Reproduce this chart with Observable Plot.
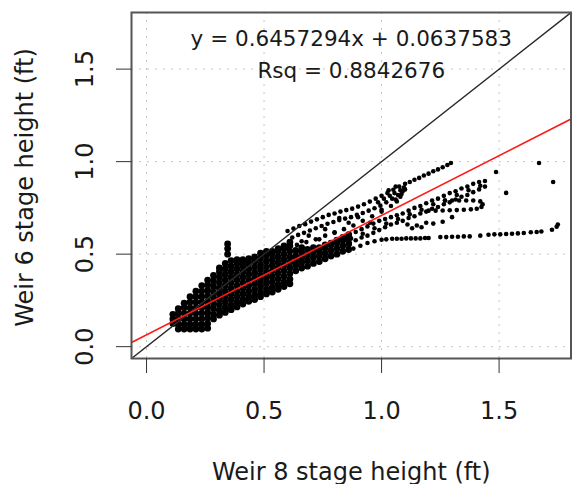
<!DOCTYPE html>
<html>
<head>
<meta charset="utf-8">
<script src="https://cdn.jsdelivr.net/npm/d3@7"></script>
<script src="https://cdn.jsdelivr.net/npm/@observablehq/plot@0.6"></script>
<style>
  html, body { margin: 0; padding: 0; background: white; }
</style>
</head>
<body>
<div id="chart"></div>
<script>
// ---- axis & text content ----
const xTicks = [0, 0.5, 1.0, 1.5];
const xTickLabels = ["0.0", "0.5", "1.0", "1.5"];
const yTicks = [0, 0.5, 1.0, 1.5];
const yTickLabels = ["0.0", "0.5", "1.0", "1.5"];
const xTitle = ["Weir 8 stage height (ft)"];
const yTitle = ["Weir 6 stage height (ft)"];
const slope = 0.6457294;
const intercept = 0.0637583;
const rsq = 0.8842676;
const eqLine1 = ["y = 0.6457294x + 0.0637583"];
const eqLine2 = ["Rsq = 0.8842676"];
const axisDomain = [-0.064, 1.806];

// ---- dense low-stage cloud: [x, [y values]] columns ----
const blobCols = [
  [0.112, [0.125, 0.15, 0.175]],
  [0.135, [0.095, 0.12, 0.15, 0.18, 0.205]],
  [0.16, [0.095, 0.12, 0.15, 0.18, 0.21, 0.235]],
  [0.185, [0.095, 0.12, 0.15, 0.18, 0.21, 0.24, 0.27]],
  [0.21, [0.095, 0.12, 0.15, 0.18, 0.21, 0.24, 0.27, 0.30]],
  [0.235, [0.095, 0.12, 0.15, 0.18, 0.21, 0.24, 0.27, 0.30, 0.33]],
  [0.26, [0.10, 0.125, 0.155, 0.185, 0.215, 0.245, 0.275, 0.305, 0.335, 0.36]],
  [0.285, [0.15, 0.175, 0.205, 0.235, 0.265, 0.295, 0.325, 0.355, 0.385]],
  [0.31, [0.17, 0.195, 0.225, 0.255, 0.285, 0.315, 0.345, 0.375, 0.405, 0.425]],
  [0.335, [0.185, 0.21, 0.24, 0.27, 0.30, 0.33, 0.36, 0.39, 0.42, 0.45]],
  [0.36, [0.20, 0.225, 0.255, 0.285, 0.315, 0.345, 0.375, 0.405, 0.435, 0.465]],
  [0.385, [0.215, 0.24, 0.27, 0.30, 0.33, 0.36, 0.39, 0.42, 0.45, 0.47]],
  [0.41, [0.23, 0.255, 0.285, 0.315, 0.345, 0.375, 0.405, 0.435, 0.46, 0.47]],
  [0.435, [0.245, 0.27, 0.30, 0.33, 0.36, 0.39, 0.42, 0.45, 0.475]],
  [0.46, [0.255, 0.28, 0.31, 0.34, 0.37, 0.40, 0.43, 0.46, 0.485]],
  [0.485, [0.27, 0.295, 0.325, 0.355, 0.385, 0.415, 0.445, 0.475, 0.505]],
  [0.51, [0.285, 0.31, 0.34, 0.37, 0.40, 0.43, 0.46, 0.49, 0.515]],
  [0.535, [0.295, 0.32, 0.35, 0.38, 0.41, 0.44, 0.47, 0.50, 0.515]],
  [0.56, [0.31, 0.335, 0.365, 0.395, 0.425, 0.455, 0.485, 0.515, 0.53]],
  [0.585, [0.325, 0.35, 0.38, 0.41, 0.44, 0.47, 0.50, 0.53, 0.545]],
  [0.61, [0.34, 0.365, 0.395, 0.425, 0.455, 0.485, 0.515, 0.545, 0.565]],
  [0.345, [0.50, 0.53, 0.555]],
  [0.635, [0.41, 0.44, 0.465, 0.49, 0.52]],
  [0.66, [0.425, 0.455, 0.48, 0.51, 0.535]],
  [0.685, [0.435, 0.465, 0.495, 0.525]],
  [0.71, [0.45, 0.48, 0.51, 0.535]],
  [0.735, [0.46, 0.49, 0.52, 0.535]],
  [0.76, [0.475, 0.505, 0.535, 0.55]],
  [0.785, [0.49, 0.52, 0.55, 0.56]],
  [0.81, [0.50, 0.53, 0.56, 0.575]],
  [0.835, [0.515, 0.545, 0.575, 0.59]],
  [0.86, [0.525, 0.555, 0.585, 0.605]]
];

// ---- sparse trails [x, y] ----
const upperBand = [
  [0.60,0.625],[0.625,0.638],[0.65,0.652],[0.675,0.662],[0.70,0.676],[0.725,0.688],[0.75,0.70],
  [0.775,0.712],[0.80,0.72],[0.825,0.73],[0.85,0.738],[0.875,0.746],[0.90,0.757],[0.925,0.77],
  [0.95,0.784],[0.975,0.80],[1.00,0.815],[1.025,0.83],[1.05,0.848],[1.075,0.865],[1.10,0.88],
  [0.62,0.59],[0.645,0.604],[0.67,0.615],[0.695,0.628],[0.72,0.64],[0.745,0.652],[0.77,0.664],
  [0.795,0.674],[0.82,0.684],[0.845,0.692],[0.87,0.70],[0.895,0.712],[0.92,0.722],[0.945,0.735],
  [0.97,0.748],[0.995,0.762],[1.02,0.78],[1.045,0.80],[1.07,0.82],[1.09,0.84],
  [0.60,0.535],[0.64,0.55],[0.68,0.565],[0.72,0.58],[0.76,0.60],[0.80,0.618],[0.84,0.635],
  [0.88,0.655],[0.92,0.68],[0.96,0.705],[1.00,0.73],[1.04,0.76],[1.065,0.785],
  [1.03,0.845],[1.055,0.83],[1.08,0.845],[1.08,0.81],[1.095,0.86],[1.06,0.865],
  [1.01,0.80],[1.035,0.815],[1.06,0.795],[1.085,0.825],[1.10,0.85],[0.985,0.78]
];
const topTrail = [
  [1.12,0.89],[1.14,0.902],[1.16,0.912],[1.18,0.925],[1.20,0.935],[1.22,0.948],
  [1.24,0.958],[1.26,0.97],[1.28,0.982],[1.295,0.993]
];
const midScatter = [
  [0.66,0.57],[0.69,0.60],[0.735,0.58],[0.76,0.635],[0.80,0.615],[0.82,0.695],
  [0.86,0.67],[0.90,0.70],[0.95,0.67],[1.00,0.74]
];
const lowerBand = [
  [0.865,0.605],[0.89,0.62],[0.915,0.635],[0.94,0.65],[0.965,0.665],[0.99,0.68],[1.015,0.69],
  [1.04,0.70],[1.065,0.71],[1.09,0.72],[1.115,0.735],[1.14,0.75],[1.165,0.76],[1.19,0.775],
  [1.215,0.79],[1.24,0.80],[1.265,0.815],[1.29,0.83],[1.315,0.84],[1.34,0.855],[1.365,0.865],
  [1.39,0.88],[1.415,0.89],[1.44,0.895],
  [0.865,0.56],[0.89,0.575],[0.915,0.59],[0.94,0.60],[0.965,0.615],[0.99,0.63],[1.015,0.645],
  [1.04,0.66],[1.065,0.67],[1.09,0.68],[1.115,0.695],[1.14,0.705],[1.165,0.72],[1.19,0.73],
  [1.215,0.745],[1.24,0.755],[1.265,0.77],[1.29,0.78],[1.315,0.795],[1.34,0.81],[1.365,0.82],
  [1.39,0.835],[1.415,0.85],[1.44,0.865],
  [0.87,0.585],[0.92,0.61],[0.97,0.64],[1.02,0.665],[1.07,0.69],[1.12,0.715],[1.17,0.74],
  [1.22,0.77],[1.27,0.79],[1.32,0.82],[1.37,0.845],[1.42,0.87]
];
const hookTrail = [
  [1.20,0.735],[1.23,0.735],[1.26,0.736],[1.29,0.737],[1.32,0.738],[1.35,0.74],[1.38,0.742],
  [1.405,0.745],[1.425,0.755],[1.43,0.77],[1.42,0.785],[1.39,0.79],[1.36,0.79],[1.33,0.79],
  [1.30,0.79],[1.27,0.79]
];
const lowScatter = [
  [1.11,0.66],[1.13,0.64],[1.15,0.655],[1.17,0.645],[1.19,0.67],[1.22,0.665],[1.26,0.675],[1.30,0.70]
];
const flatTrail = [
  [0.88,0.53],[0.91,0.545],[0.94,0.56],[0.97,0.57],
  [1.00,0.578],[1.02,0.58],[1.045,0.583],[1.065,0.583],[1.085,0.583],[1.105,0.585],[1.125,0.585],
  [1.145,0.585],[1.165,0.585],[1.185,0.587],[1.20,0.587],
  [1.25,0.592],[1.275,0.592],[1.30,0.594],[1.325,0.594],[1.35,0.596],[1.375,0.596],
  [1.42,0.60],
  [1.455,0.605],[1.48,0.607],[1.505,0.607],[1.53,0.609],[1.555,0.61],[1.58,0.612],[1.605,0.614],
  [1.635,0.618],[1.66,0.62],[1.68,0.622],
  [1.725,0.632],[1.745,0.648],[1.75,0.66]
];
const outliers = [[1.487,0.944],[1.53,0.831],[1.67,0.993],[1.73,0.89]];

// ---- tables built from the arrays ----
const dense = blobCols.flatMap(([x, ys]) => ys.map(y => ({x, y})));
const sparse = [...upperBand, ...topTrail, ...midScatter, ...lowerBand, ...hookTrail,
  ...lowScatter, ...flatTrail, ...outliers].map(([x, y]) => ({x, y}));
const fitLine = axisDomain.map(x => ({x, y: slope * x + intercept}));
const oneToOne = axisDomain.map(x => ({x, y: x}));

const textColor = "#1a1a1a";

const chart = Plot.plot({
  width: 572,
  height: 484,
  marginLeft: 131,
  marginRight: 1.5,
  marginTop: 12,
  marginBottom: 126,
  x: {domain: axisDomain},
  y: {domain: axisDomain},
  style: {fontFamily: "DejaVu Sans", background: "white", color: textColor},
  marks: [
    Plot.gridX(xTicks, {stroke: "#c4c4c4", strokeOpacity: 1, strokeDasharray: "2,6"}),
    Plot.gridY(yTicks, {stroke: "#c4c4c4", strokeOpacity: 1, strokeDasharray: "2,6"}),
    Plot.dot(dense, {x: "x", y: "y", r: 3.4, fill: "black", stroke: "none"}),
    Plot.dot(sparse, {x: "x", y: "y", r: 2.3, fill: "black", stroke: "none"}),
    Plot.line(oneToOne, {x: "x", y: "y", stroke: "#2a2a2a", strokeWidth: 1.4, clip: true}),
    Plot.line(fitLine, {x: "x", y: "y", stroke: "#ff1a1a", strokeWidth: 1.6, clip: true}),
    Plot.frame({stroke: "#555", strokeWidth: 2}),
    Plot.axisX(xTicks, {
      tickSize: 15, tickPadding: 28, fontSize: 24, label: null,
      tickFormat: (d, i) => xTickLabels[i], stroke: "#333"
    }),
    Plot.axisY(yTicks, {
      tickSize: 15, tickPadding: 24, tickRotate: -90, fontSize: 24, label: null,
      tickFormat: (d, i) => yTickLabels[i], stroke: "#333"
    }),
    Plot.text(xTitle, {frameAnchor: "bottom", dy: 121, lineAnchor: "bottom", textAnchor: "middle", fontSize: 24, fill: textColor}),
    Plot.text(yTitle, {frameAnchor: "left", rotate: -90, dx: -98.5, dy: 2, lineAnchor: "bottom", textAnchor: "middle", fontSize: 24, fill: textColor}),
    Plot.text(eqLine1, {frameAnchor: "top", dy: 33, lineAnchor: "bottom", fontSize: 21.5, fill: textColor}),
    Plot.text(eqLine2, {frameAnchor: "top", dy: 65, lineAnchor: "bottom", fontSize: 21.5, fill: textColor})
  ]
});
document.getElementById("chart").appendChild(chart);
</script>
</body>
</html>
